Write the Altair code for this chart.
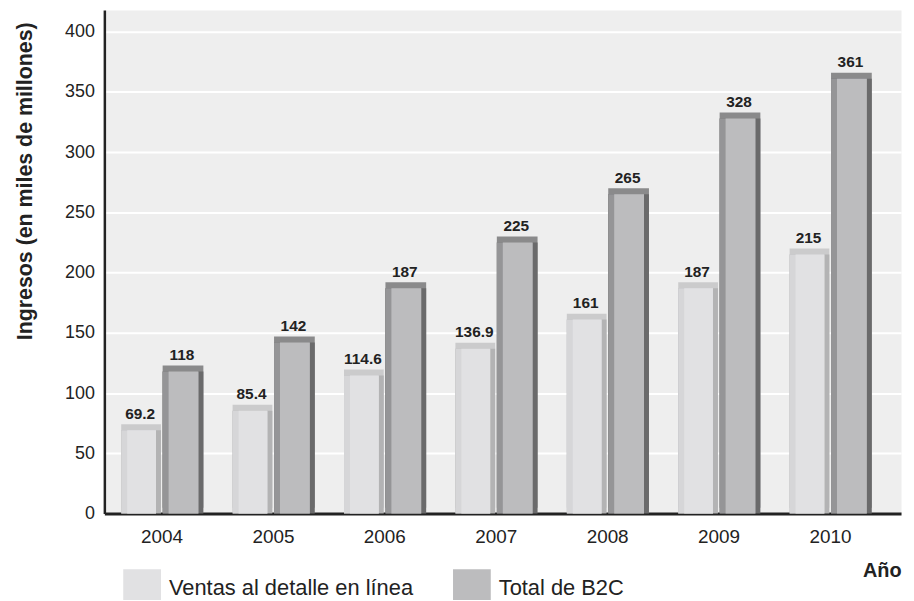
import altair as alt
import pandas as pd

years = ["2004", "2005", "2006", "2007", "2008", "2009", "2010"]
ventas = [69.2, 85.4, 114.6, 136.9, 161, 187, 215]
total = [118, 142, 187, 225, 265, 328, 361]
ventas_labels = ["69.2", "85.4", "114.6", "136.9", "161", "187", "215"]
total_labels = ["118", "142", "187", "225", "265", "328", "361"]
series_names = ["Ventas al detalle en línea", "Total de B2C"]
y_ticks = [0, 50, 100, 150, 200, 250, 300, 350, 400]

rows = []
for i, yr in enumerate(years):
    rows.append({"year": yr, "series": series_names[0], "value": ventas[i], "label": ventas_labels[i]})
    rows.append({"year": yr, "series": series_names[1], "value": total[i], "label": total_labels[i]})
df = pd.DataFrame(rows)

REG = "Liberation Sans, Arial, sans-serif"
NB = "Liberation Sans, Arial, sans-serif"
INK = "#222222"

base = alt.Chart(df).encode(
    x=alt.X(
        "year:N",
        sort=years,
        scale=alt.Scale(paddingInner=0, paddingOuter=0.0758, align=0.118),
        axis=alt.Axis(
            title="Año", labelAngle=0, ticks=False, grid=False,
            labelFont=REG, labelFontSize=19, labelColor=INK, labelPadding=14,
            domainColor=INK, domainWidth=3,
            titleFont=NB, titleFontSize=20, titleFontWeight="bold", titleColor=INK,
            titleAnchor="end", titleAlign="right", titleX=802, titleY=63,
            titleBaseline="alphabetic",
        ),
    ),
    y=alt.Y(
        "value:Q",
        scale=alt.Scale(domain=[0, 418], nice=False, zero=True),
        axis=alt.Axis(
            title="Ingresos (en miles de millones)", values=y_ticks, ticks=False,
            labelFont=REG, labelFontSize=18, labelColor=INK, labelPadding=10,
            grid=True, gridColor="white", gridWidth=2,
            domainColor=INK, domainWidth=2.5,
            titleFont=NB, titleFontSize=21.5, titleFontWeight="bold", titleColor=INK,
            titleAngle=-90, titleX=-79, titleY=12, titleAlign="right", titleBaseline="middle",
        ),
    ),
)

styles = {
    series_names[0]: dict(off=-21.1, w=40, top="#cbcbcc", left="#d6d6d8", right="#b3b3b4", face="#e1e1e3"),
    series_names[1]: dict(off=21.1, w=41, top="#8a8a8b", left="#959597", right="#6a6a6b", face="#bcbcbe"),
}

layers = []
for s in series_names:
    st = styles[s]
    b = base.transform_filter(alt.datum.series == s)
    layers.append(b.mark_bar(width=st["w"], xOffset=st["off"], yOffset=-6, color=st["top"]))
    layers.append(b.mark_bar(width=st["w"], xOffset=st["off"], color=st["right"]))
    layers.append(b.mark_bar(width=st["w"] - 5, xOffset=st["off"] - 2.5, color=st["left"]))
    layers.append(
        b.mark_bar(width=st["w"] - 11, xOffset=st["off"] + 0.5).encode(
            color=alt.Color(
                "series:N",
                sort=series_names,
                scale=alt.Scale(domain=series_names, range=[styles[series_names[0]]["face"], styles[series_names[1]]["face"]]),
                legend=alt.Legend(
                    title=None, orient="none", legendX=19, legendY=563, direction="horizontal",
                    symbolType="square", symbolSize=1444, symbolStrokeWidth=0, symbolOpacity=1,
                    labelFont=REG, labelFontSize=22, labelColor=INK, labelOffset=8, labelLimit=400,
                    columnPadding=40, padding=0,
                ),
            )
        )
    )
    layers.append(
        b.mark_text(xOffset=st["off"] - 1, dy=-11.5, baseline="alphabetic", font=NB,
                    fontSize=15.5, fontWeight="bold", color=INK).encode(text="label:N")
    )

chart = alt.layer(*layers).properties(
    width=802, height=507,
    autosize=alt.AutoSizeParams(type="none"),
    padding={"left": 97, "top": 0, "right": 5, "bottom": 85},
).configure_view(fill="#eeeeee", stroke="transparent")

chart.save("out.html", embed_options={"renderer": "svg", "actions": False})
